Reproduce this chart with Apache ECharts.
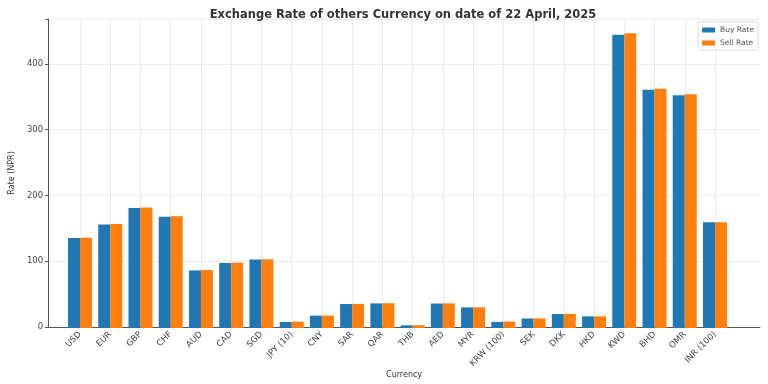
<!DOCTYPE html>
<html><head><meta charset="utf-8">
<script src="https://cdn.jsdelivr.net/npm/echarts@6/dist/echarts.min.js"></script>
<style>html,body{margin:0;padding:0;background:#fff}#c{width:768px;height:384px}</style>
</head><body><div id="c"></div>
<script>
const categories = ['USD','EUR','GBP','CHF','AUD','CAD','SGD','JPY (10)','CNY','SAR','QAR','THB','AED','MYR','KRW (100)','SEK','DKK','HKD','KWD','BHD','OMR','INR (100)'];
const buyRate  = [136.2,156.8,181.6,168.6,87.2,98.4,103.6,9.1,18.7,36.3,37.3,4.0,37.1,31.2,9.3,14.4,21.2,17.6,444.2,360.8,352.5,160.0];
const sellRate = [136.8,157.4,182.5,169.4,87.8,99.0,104.3,9.6,18.8,36.5,37.5,4.2,37.3,31.3,9.7,14.6,21.3,17.7,446.4,362.3,354.0,160.0];
const yTicks = [0,100,200,300,400];

const font = 'DejaVu Sans';
const chart = echarts.init(document.getElementById('c'), null, {renderer:'canvas'});
chart.setOption({
  animation:false,
  backgroundColor:'#fff',
  textStyle:{fontFamily:font},
  title:{text:'Exchange Rate of others Currency on date of 22 April, 2025', left:398, top:4, textAlign:'center',
    textStyle:{fontFamily:font, fontSize:11.5, fontWeight:'bold', color:'#333'}},
  legend:{data:['Buy Rate','Sell Rate'], orient:'vertical', right:10, top:22, itemWidth:13, itemHeight:5, itemGap:5,
    textStyle:{fontFamily:font, fontSize:7.5, color:'#555'}, borderColor:'#ddd', borderWidth:1, borderRadius:2,
    padding:[4,4,3,4], backgroundColor:'#fff', icon:'rect'},
  grid:[
    {left:36, right:8, top:19, bottom:56},
    {left:80, right:53, top:19, bottom:56}
  ],
  xAxis:[
    {gridIndex:0, type:'value', min:0, max:1, axisLabel:{show:false}, axisTick:{show:false}, splitLine:{show:false},
     axisLine:{show:true, lineStyle:{color:'#555', width:1}},
     name:'Currency', nameLocation:'middle', nameGap:44, nameTextStyle:{fontFamily:font, fontSize:8, color:'#333'}},
    {gridIndex:1, type:'category', data:categories, boundaryGap:false,
     axisLine:{show:false},
     axisTick:{show:false},
     axisLabel:{rotate:45, fontSize:8.5, color:'#444', fontFamily:font, interval:0, margin:5},
     splitLine:{show:true, lineStyle:{color:'#ebebeb', width:1}}}
  ],
  yAxis:[
    {gridIndex:0, type:'value', min:0, max:468, interval:100,
     axisLine:{show:true, lineStyle:{color:'#555', width:1}},
     axisTick:{show:true, length:3, lineStyle:{color:'#555'}},
     axisLabel:{fontSize:8.5, color:'#444', fontFamily:font, margin:5, formatter:v=>yTicks.includes(v)?String(v):''},
     splitLine:{show:true, lineStyle:{color:'#ebebeb', width:1}},
     name:'Rate (NPR)', nameLocation:'middle', nameGap:27, nameTextStyle:{fontFamily:font, fontSize:8, color:'#333'}},
    {gridIndex:1, type:'value', min:0, max:468, interval:100, show:false, splitLine:{show:false}}
  ],
  series:[
    {name:'Buy Rate', type:'bar', xAxisIndex:1, yAxisIndex:1, data:buyRate, barWidth:12, barGap:'0%', clip:false,
     itemStyle:{color:'#1f77b4'}},
    {name:'Sell Rate', type:'bar', xAxisIndex:1, yAxisIndex:1, data:sellRate, barWidth:12, barGap:'0%', clip:false,
     itemStyle:{color:'#ff7f0e'}}
  ]
});
</script></body></html>
